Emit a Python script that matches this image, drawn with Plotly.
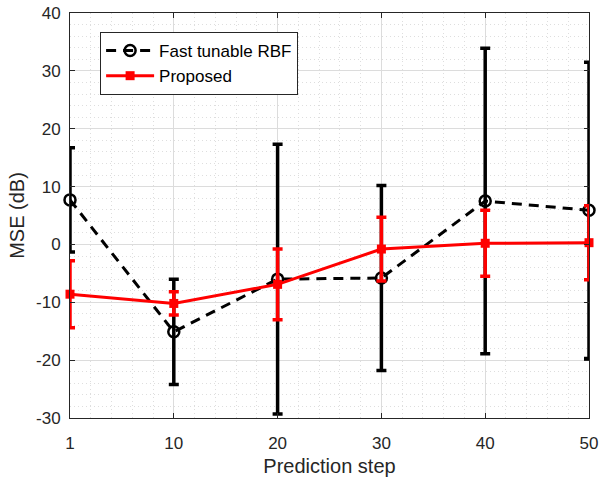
import plotly.graph_objects as go

# Prediction steps (evenly spaced on the axis) and MSE statistics in dB
steps = [1, 10, 20, 30, 40, 50]
rbf_mean = [7.7, -15.1, -6.0, -5.8, 7.5, 5.9]
rbf_err = [9.0, 9.1, 23.3, 16.0, 26.4, 25.6]
proposed_mean = [-8.6, -10.2, -6.9, -0.8, 0.2, 0.3]
proposed_err = [5.8, 2.0, 6.1, 5.5, 5.7, 6.4]
y_ticks = [-30, -20, -10, 0, 10, 20, 30, 40]

pos = list(range(len(steps)))
font_family = "Liberation Sans, Arial, Helvetica, sans-serif"
ink = "#262626"

fig = go.Figure()

fig.add_trace(go.Scatter(
    x=pos, y=rbf_mean, name="Fast tunable RBF", mode="lines+markers",
    line=dict(color="black", width=3, dash="10px,7px"),
    marker=dict(symbol="circle-open", size=11, color="black",
                line=dict(width=2.5, color="black")),
    error_y=dict(type="data", array=rbf_err, visible=True,
                 color="black", thickness=3.5, width=5),
    cliponaxis=False,
))

fig.add_trace(go.Scatter(
    x=pos, y=proposed_mean, name="Proposed", mode="lines+markers",
    line=dict(color="#ff0000", width=3),
    marker=dict(symbol="square", size=9, color="#ff0000"),
    error_y=dict(type="data", array=proposed_err, visible=True,
                 color="#ff0000", thickness=3.5, width=5),
    cliponaxis=False,
))

axis_common = dict(
    showline=True, linecolor=ink, linewidth=1, mirror="ticks",
    ticks="inside", ticklen=5, tickcolor=ink, tickwidth=1,
    showgrid=True, gridcolor="#dcdcdc", gridwidth=1,
    zeroline=False, automargin=False,
    tickfont=dict(family=font_family, size=17, color=ink),
    title_font=dict(family=font_family, size=20, color=ink),
)

minor_grid = dict(showgrid=True, gridcolor="#dedede", griddash="1px,3px",
                  gridwidth=1, ticks="")

fig.update_xaxes(
    **axis_common,
    range=[0, len(steps) - 1],
    tickmode="array", tickvals=pos, ticktext=[str(s) for s in steps],
    minor=dict(tick0=0, dtick=0.2, **minor_grid),
    ticklabelstandoff=10,
    title=dict(text="Prediction step", standoff=6),
)

fig.update_yaxes(
    **axis_common,
    range=[-30, 40],
    tickmode="array", tickvals=y_ticks, ticktext=[str(v) for v in y_ticks],
    minor=dict(tick0=0, dtick=2, **minor_grid),
    ticklabelstandoff=5,
    title=dict(text="MSE (dB)", standoff=6),
)

fig.update_layout(
    width=601, height=479,
    margin=dict(l=70, r=12, t=13, b=61),
    paper_bgcolor="white", plot_bgcolor="white",
    font=dict(family=font_family, color=ink),
    legend=dict(
        x=0.058, y=0.953, xanchor="left", yanchor="top",
        bgcolor="white", bordercolor=ink, borderwidth=1,
        font=dict(family=font_family, size=17, color="black"),
        itemwidth=48, tracegroupgap=0,
    ),
    showlegend=True,
)

fig.write_html("out.html")
